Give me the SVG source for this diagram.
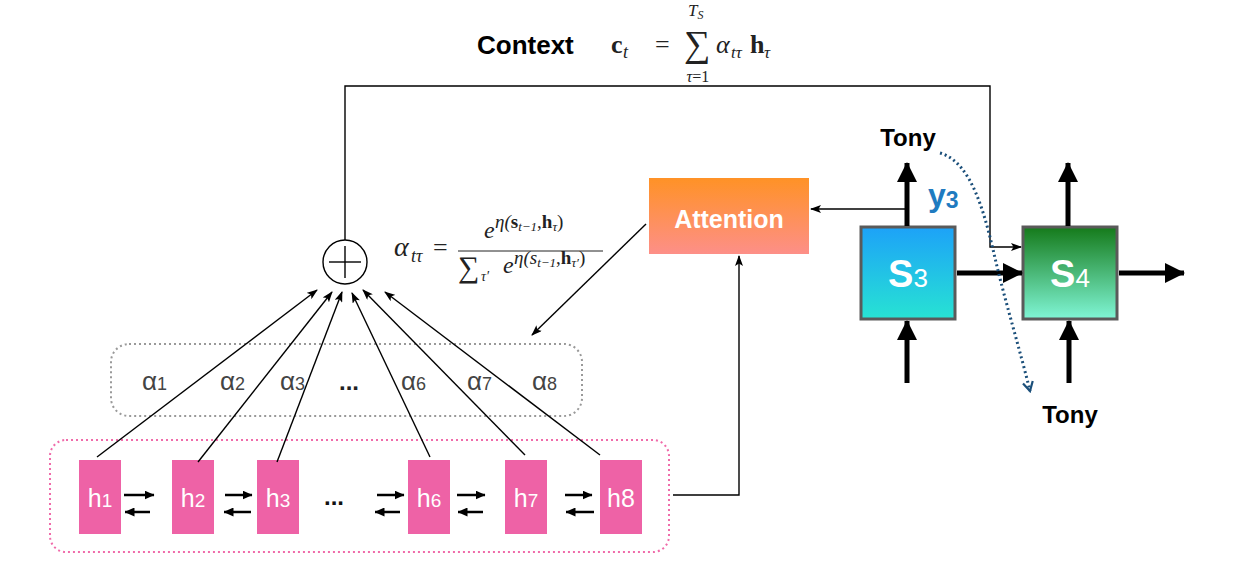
<svg xmlns="http://www.w3.org/2000/svg" width="1234" height="584" viewBox="0 0 1234 584">
<defs>
<style>
.sans{font-family:"Liberation Sans",Arial,sans-serif}
.m{font-family:"Liberation Serif","DejaVu Serif",serif;fill:#222}
.it{font-style:italic}
.thin{stroke:#000;stroke-width:1.4;fill:none}
.thick{stroke:#000;stroke-width:5;fill:none}
.bi{stroke:#000;stroke-width:2.5;fill:none}
.hbox{fill:#EE62A6}
.hlab{font-family:"Liberation Sans",Arial,sans-serif;fill:#fff;font-size:25px}
.alab{font-family:"Liberation Sans",Arial,sans-serif;fill:#444;font-size:26px}
.tony{font-family:"Liberation Sans",Arial,sans-serif;font-weight:bold;font-size:24px;fill:#000}
</style>
<marker id="at" viewBox="0 0 11 8" refX="10" refY="4" markerWidth="11" markerHeight="8" markerUnits="userSpaceOnUse" orient="auto"><path d="M0,0 L11,4 L0,8 L2.5,4 z" fill="#000"/></marker>
<marker id="ab" viewBox="0 0 10 9" refX="9.5" refY="4.5" markerWidth="10" markerHeight="9" markerUnits="userSpaceOnUse" orient="auto"><path d="M0,0 L10,4.5 L0,9 z" fill="#000"/></marker>
<marker id="ak" viewBox="0 0 20 20" refX="19" refY="10" markerWidth="20" markerHeight="20" markerUnits="userSpaceOnUse" orient="auto"><path d="M0,0 L20,10 L0,20 z" fill="#000"/></marker>
<marker id="ad" viewBox="0 0 12 12" refX="10" refY="6" markerWidth="12" markerHeight="12" markerUnits="userSpaceOnUse" orient="auto"><path d="M1,1 L10,6 L1,11" fill="none" stroke="#1B4F7A" stroke-width="2.2"/></marker>
<linearGradient id="gAtt" x1="0" y1="0" x2="0" y2="1"><stop offset="0" stop-color="#FF9226"/><stop offset="1" stop-color="#FD8F88"/></linearGradient>
<linearGradient id="gS3" x1="0" y1="0" x2="0" y2="1"><stop offset="0" stop-color="#1DA2F8"/><stop offset="1" stop-color="#27E3D3"/></linearGradient>
<linearGradient id="gS4" x1="0" y1="0" x2="0" y2="1"><stop offset="0" stop-color="#157A1A"/><stop offset="1" stop-color="#80F6D6"/></linearGradient>
</defs>
<rect width="1234" height="584" fill="#fff"/>

<!-- Context label and formula -->
<g id="context">
<text class="sans" x="477" y="54" font-size="26" font-weight="bold" fill="#000">Context</text>
<text class="m" x="611" y="53" font-size="26" font-weight="bold">c</text>
<text class="m it" x="623" y="58" font-size="18">t</text>
<text class="m" x="655" y="53" font-size="26">=</text>
<text class="m" x="697" y="56" font-size="37" text-anchor="middle">∑</text>
<text class="m it" x="688" y="16" font-size="17">T<tspan font-size="12" dy="3">S</tspan></text>
<text class="m" x="698" y="82" font-size="16" text-anchor="middle"><tspan class="it">τ</tspan>=1</text>
<text class="m it" x="716" y="53" font-size="26">α</text>
<text class="m it" x="731" y="58" font-size="17">tτ</text>
<text class="m" x="750" y="53" font-size="26" font-weight="bold">h</text>
<text class="m it" x="764" y="58" font-size="17">τ</text>
</g>

<!-- alpha formula -->
<g id="alpha-formula">
<text class="m it" x="394" y="256" font-size="28">α</text>
<text class="m it" x="411" y="262" font-size="18">tτ</text>
<text class="m" x="433" y="256" font-size="26">=</text>
<line x1="458" y1="251" x2="603" y2="251" stroke="#222" stroke-width="1"/>
<text class="m it" x="484" y="238" font-size="24">e</text>
<text class="m it" x="495" y="228" font-size="19">η(<tspan font-style="normal" font-weight="bold">s</tspan><tspan font-size="13" dy="3">t−1</tspan><tspan font-style="normal" dy="-3">,</tspan><tspan font-style="normal" font-weight="bold">h</tspan><tspan font-size="13" dy="3">τ</tspan><tspan font-style="normal" dy="-3">)</tspan></text>
<text class="m" x="458" y="277" font-size="30">∑</text>
<text class="m it" x="481" y="281" font-size="14">τ′</text>
<text class="m it" x="503" y="273" font-size="24">e</text>
<text class="m it" x="514" y="264" font-size="19">η(s<tspan font-size="13" dy="3">t−1</tspan><tspan font-style="normal" dy="-3">,</tspan><tspan font-style="normal" font-weight="bold">h</tspan><tspan font-size="13" dy="3">τ′</tspan><tspan font-style="normal" dy="-3">)</tspan></text>
</g>

<!-- containers -->
<g id="alpha-box">
<rect x="111" y="344" width="471" height="72" rx="18" fill="none" stroke="#999" stroke-width="2" stroke-dasharray="2 3"/>
<text class="alab" x="142" y="390">α<tspan font-size="18">1</tspan></text>
<text class="alab" x="220" y="390">α<tspan font-size="18">2</tspan></text>
<text class="alab" x="280" y="390">α<tspan font-size="18">3</tspan></text>
<text class="sans" x="349" y="390" font-size="24" font-weight="bold" fill="#222" text-anchor="middle">...</text>
<text class="alab" x="401" y="390">α<tspan font-size="18">6</tspan></text>
<text class="alab" x="467" y="390">α<tspan font-size="18">7</tspan></text>
<text class="alab" x="532" y="390">α<tspan font-size="18">8</tspan></text>
</g>

<g id="encoder-box">
<rect x="50" y="440" width="619" height="112" rx="16" fill="none" stroke="#F06BAA" stroke-width="2" stroke-dasharray="2 3"/>
</g>

<g id="h1"><rect class="hbox" x="79" y="460" width="42" height="74"/><text class="hlab" x="100" y="507" text-anchor="middle">h<tspan font-size="19">1</tspan></text></g>
<g id="h2"><rect class="hbox" x="172" y="460" width="42" height="74"/><text class="hlab" x="193" y="507" text-anchor="middle">h<tspan font-size="19">2</tspan></text></g>
<g id="h3"><rect class="hbox" x="257" y="460" width="42" height="74"/><text class="hlab" x="278" y="507" text-anchor="middle">h<tspan font-size="19">3</tspan></text></g>
<g id="h6"><rect class="hbox" x="408" y="460" width="42" height="74"/><text class="hlab" x="429" y="507" text-anchor="middle">h<tspan font-size="19">6</tspan></text></g>
<g id="h7"><rect class="hbox" x="505" y="460" width="42" height="74"/><text class="hlab" x="526" y="507" text-anchor="middle">h<tspan font-size="19">7</tspan></text></g>
<g id="h8"><rect class="hbox" x="600" y="460" width="42" height="74"/><text class="hlab" x="621" y="507" text-anchor="middle">h8</text></g>
<text class="sans" x="334" y="505" font-size="24" font-weight="bold" fill="#111" text-anchor="middle">...</text>

<g id="sum">
<circle cx="345" cy="262" r="22" fill="#fff" stroke="#000" stroke-width="1.4"/>
<line x1="329" y1="262" x2="361" y2="262" stroke="#000" stroke-width="1.4"/>
<line x1="345" y1="246" x2="345" y2="278" stroke="#000" stroke-width="1.4"/>
</g>

<g id="attention">
<rect x="649" y="178" width="160" height="76" fill="url(#gAtt)"/>
<text class="sans" x="729" y="228" font-size="25" font-weight="bold" fill="#fff" text-anchor="middle">Attention</text>
</g>

<g id="s3">
<rect x="861" y="227" width="94" height="92" fill="url(#gS3)" stroke="#5A5A5A" stroke-width="3"/>
<text class="sans" x="908" y="287" font-size="38" font-weight="bold" fill="#fff" text-anchor="middle">S<tspan font-size="26" font-weight="normal">3</tspan></text>
</g>
<g id="s4">
<rect x="1023" y="227" width="94" height="92" fill="url(#gS4)" stroke="#5A5A5A" stroke-width="3"/>
<text class="sans" x="1070" y="287" font-size="38" font-weight="bold" fill="#fff" text-anchor="middle">S<tspan font-size="26" font-weight="normal">4</tspan></text>
</g>

<g id="labels">
<text class="tony" x="908" y="146" text-anchor="middle">Tony</text>
<text class="tony" x="1070" y="423" text-anchor="middle">Tony</text>
<text class="sans" x="928" y="206" font-size="32" font-weight="bold" fill="#1F7BC0">y<tspan font-size="23" dy="2">3</tspan></text>
</g>

<g id="connectors">
<line class="thin" x1="97" y1="457" x2="317" y2="290" marker-end="url(#at)"/>
<line class="thin" x1="198" y1="462" x2="332" y2="292" marker-end="url(#at)"/>
<line class="thin" x1="277" y1="462" x2="342" y2="292" marker-end="url(#at)"/>
<line class="thin" x1="430" y1="457" x2="352" y2="293" marker-end="url(#at)"/>
<line class="thin" x1="525" y1="455" x2="363" y2="290" marker-end="url(#at)"/>
<line class="thin" x1="600" y1="455" x2="385" y2="292" marker-end="url(#at)"/>
<path class="thin" d="M345,240 V86 H990 V247 H1021" marker-end="url(#at)"/>
<path class="thin" d="M673,495 H739 V256" marker-end="url(#at)"/>
<line class="thin" x1="646" y1="224" x2="532" y2="335" marker-end="url(#at)"/>
<line class="thin" x1="907" y1="209" x2="811" y2="209" marker-end="url(#at)"/>
<line class="bi" x1="124" y1="495" x2="154" y2="495" marker-end="url(#ab)"/>
<line class="bi" x1="150" y1="512" x2="125" y2="512" marker-end="url(#ab)"/>
<line class="bi" x1="225" y1="495" x2="252" y2="495" marker-end="url(#ab)"/>
<line class="bi" x1="251" y1="512" x2="224" y2="512" marker-end="url(#ab)"/>
<line class="bi" x1="377" y1="495" x2="404" y2="495" marker-end="url(#ab)"/>
<line class="bi" x1="400" y1="512" x2="375" y2="512" marker-end="url(#ab)"/>
<line class="bi" x1="457" y1="495" x2="485" y2="495" marker-end="url(#ab)"/>
<line class="bi" x1="483" y1="512" x2="458" y2="512" marker-end="url(#ab)"/>
<line class="bi" x1="565" y1="495" x2="592" y2="495" marker-end="url(#ab)"/>
<line class="bi" x1="594" y1="512" x2="566" y2="512" marker-end="url(#ab)"/>
<line class="thick" x1="907" y1="226" x2="907" y2="163" marker-end="url(#ak)"/>
<line class="thick" x1="1068" y1="226" x2="1068" y2="163" marker-end="url(#ak)"/>
<line class="thick" x1="907" y1="383" x2="907" y2="321" marker-end="url(#ak)"/>
<line class="thick" x1="1069" y1="383" x2="1069" y2="321" marker-end="url(#ak)"/>
<line class="thick" x1="957" y1="273" x2="1022" y2="273" marker-end="url(#ak)"/>
<line class="thick" x1="1119" y1="273" x2="1184" y2="273" marker-end="url(#ak)"/>
<path d="M940,153 C972,162 985,215 995,258 S1020,350 1030,391" fill="none" stroke="#1B4F7A" stroke-width="3" stroke-dasharray="2 3" marker-end="url(#ad)"/>
</g>
</svg>
